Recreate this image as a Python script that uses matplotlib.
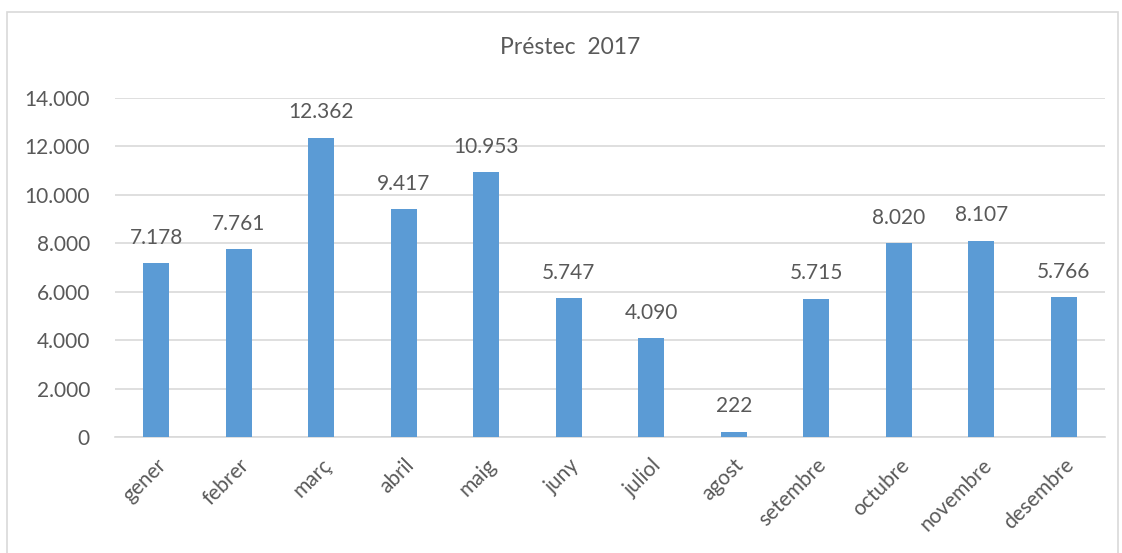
import matplotlib.pyplot as plt
from matplotlib.patches import Rectangle
from matplotlib.ticker import FuncFormatter


MONTHS = ["gener", "febrer", "març", "abril", "maig", "juny",
          "juliol", "agost", "setembre", "octubre", "novembre", "desembre"]
LOANS = [7178, 7761, 12362, 9417, 10953, 5747, 4090, 222, 5715, 8020, 8107, 5766]
Y_TICKS = [0, 2000, 4000, 6000, 8000, 10000, 12000, 14000]

TEXT_COLOR = "#595959"
GRID_COLOR = "#d9d9d9"
BAR_COLOR = "#5b9bd5"


def dot_thousands(value, _pos=None):
    return f"{int(value):,}".replace(",", ".")


def main():
    plt.rcParams["font.family"] = ["Lato", "DejaVu Sans"]

    fig = plt.figure(figsize=(11.22, 5.53), dpi=100)
    fig.patches.append(Rectangle((7 / 1122, -0.05), 1111 / 1122, 1.05 - 12 / 553,
                                 transform=fig.transFigure, fill=False,
                                 edgecolor=GRID_COLOR, linewidth=1.2))

    ax = fig.add_axes([115 / 1122, 1 - 437 / 553, 990 / 1122, 339 / 553])
    x = range(len(MONTHS))
    bars = ax.bar(x, LOANS, width=0.31, color=BAR_COLOR, zorder=3)

    for bar, value in zip(bars, LOANS):
        ax.annotate(dot_thousands(value),
                    (bar.get_x() + bar.get_width() / 2, value),
                    xytext=(0, 11), textcoords="offset points",
                    ha="center", va="bottom", fontsize=15, color=TEXT_COLOR)

    ax.set_xlim(-0.5, len(MONTHS) - 0.5)
    ax.set_ylim(0, 14000)
    ax.set_yticks(Y_TICKS)
    ax.yaxis.set_major_formatter(FuncFormatter(dot_thousands))
    ax.set_xticks(list(x))
    ax.set_xticklabels(MONTHS, rotation=45, ha="right", rotation_mode="anchor")

    ax.tick_params(axis="y", length=0, pad=18, labelsize=15, labelcolor=TEXT_COLOR)
    ax.tick_params(axis="x", length=0, pad=13, labelsize=15, labelcolor=TEXT_COLOR)

    ax.grid(axis="y", color=GRID_COLOR, linewidth=1.2, zorder=0)
    for side in ["top", "right", "left"]:
        ax.spines[side].set_visible(False)
    ax.spines["bottom"].set_color(GRID_COLOR)
    ax.spines["bottom"].set_linewidth(1.2)

    fig.text(570 / 1122, 1 - 48 / 553, "Préstec  2017", ha="center", va="center",
             fontsize=16.5, color=TEXT_COLOR)

    fig.savefig("out.png", dpi=100)


if __name__ == "__main__":
    main()
